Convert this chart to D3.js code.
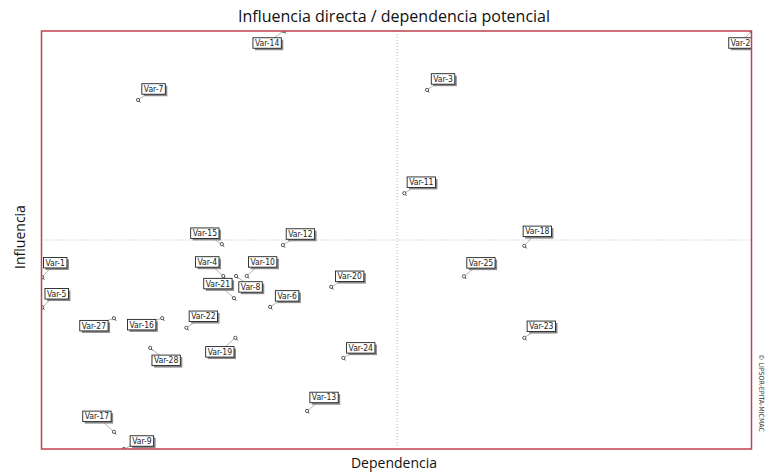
<!DOCTYPE html>
<html>
<head>
<meta charset="utf-8">
<script src="https://cdn.jsdelivr.net/npm/d3@7"></script>
<style>
  html, body { margin: 0; padding: 0; background: #fff; }
  svg { display: block; }
</style>
</head>
<body>
<svg id="chart" width="778" height="472"></svg>
<script>
// ---- data (dependence = x, influence = y, arbitrary 0..100 units) ----
const variables = ["Var-1","Var-2","Var-3","Var-4","Var-5","Var-6","Var-7","Var-8","Var-9","Var-10",
  "Var-11","Var-12","Var-13","Var-14","Var-15","Var-16","Var-17","Var-18","Var-19","Var-20",
  "Var-21","Var-22","Var-23","Var-24","Var-25","Var-27","Var-28"];
const dependence = [0.1, 100, 54.3, 25.6, 0.1, 32.2, 13.6, 27.4, 11.6, 28.9,
  51.1, 34.0, 37.4, 34.1, 25.4, 17.0, 10.2, 68.0, 27.3, 40.8,
  27.1, 20.4, 68.0, 42.5, 59.5, 10.2, 15.3];
const influence = [41.1, 100, 85.9, 41.4, 33.9, 34.0, 83.5, 41.4, 0, 41.4,
  61.2, 48.8, 9.1, 100, 49.0, 31.3, 4.1, 48.6, 26.6, 38.8,
  36.1, 29.0, 26.6, 21.8, 41.3, 31.3, 24.2];
const meanDependence = 50.1;
const meanInfluence = 50.0;

// label placement relative to each point (layout, pixels)
const labelDx = [13, -11, 16, -16, 14.5, 17, 15.5, 14.5, 18, 16,
  17, 17.5, 17, -16.5, -17, -20.5, -17, 13, -15.5, 18.5,
  -16, 17, 17, 17.5, 17, -20, 16];
const labelDy = [-14.5, 12, -11, -14, -13.5, -11, -11, 11, -8, -14,
  -11, -11, -13.5, 12, -11, 6.5, -15.5, -14.5, 14, -10.5,
  -14.5, -11.5, -11.5, -10, -13.5, 7.5, 12.5];

const titleText = "Influencia directa / dependencia potencial";
const xTitle = "Dependencia";
const yTitle = "Influencia";
const credit = "© LIPSOR-EPITA-MICMAC";

// ---- drawing ----
const svg = d3.select("#chart");
const pLeft = 41.5, pRight = 751.5, pTop = 31, pBottom = 449;
const x = d3.scaleLinear().domain([0, 100]).range([pLeft, pRight]);
const y = d3.scaleLinear().domain([0, 100]).range([pBottom, pTop]);

const points = variables.map((name, i) => ({
  name, dx: labelDx[i], dy: labelDy[i],
  px: x(dependence[i]), py: y(influence[i])
}));

svg.append("defs").append("clipPath").attr("id", "plotClip")
  .append("rect").attr("x", pLeft).attr("y", pTop)
  .attr("width", pRight - pLeft).attr("height", pBottom - pTop);

// mean lines
svg.append("line")
  .attr("x1", x(meanDependence)).attr("x2", x(meanDependence))
  .attr("y1", pTop).attr("y2", pBottom)
  .attr("stroke", "#b8b8b8").attr("stroke-width", 1).attr("stroke-dasharray", "1,2");
svg.append("line")
  .attr("x1", pLeft).attr("x2", pRight)
  .attr("y1", y(meanInfluence)).attr("y2", y(meanInfluence))
  .attr("stroke", "#b8b8b8").attr("stroke-width", 1).attr("stroke-dasharray", "1,2");

const plot = svg.append("g").attr("clip-path", "url(#plotClip)");

// leader lines
plot.selectAll("line.leader").data(points).join("line")
  .attr("class", "leader")
  .attr("x1", d => d.px).attr("y1", d => d.py)
  .attr("x2", d => d.px + d.dx).attr("y2", d => d.py + d.dy)
  .attr("stroke", "#a0a0a0").attr("stroke-width", 0.8);

// markers (small pin: circle with a tail)
const mk = plot.selectAll("g.marker").data(points).join("g")
  .attr("class", "marker")
  .attr("transform", d => `translate(${d.px},${d.py})`);
mk.append("line").attr("x1", 0.8).attr("y1", 0.8).attr("x2", 2.2).attr("y2", 2.6)
  .attr("stroke", "#444").attr("stroke-width", 1);
mk.append("circle").attr("r", 1.6).attr("fill", "#fff")
  .attr("stroke", "#444").attr("stroke-width", 0.9);

// labels
const lab = plot.selectAll("g.label").data(points).join("g")
  .attr("class", "label")
  .attr("transform", d => `translate(${d.px + d.dx},${d.py + d.dy})`);
lab.each(function(d) {
  const g = d3.select(this);
  const t = g.append("text")
    .attr("text-anchor", "middle").attr("dy", "0.35em")
    .attr("font-family", "'Liberation Sans Narrow', 'DejaVu Sans Condensed', sans-serif")
    .attr("font-size", 8.5).attr("fill", "#222")
    .text(d.name);
  const w = t.node().getComputedTextLength() + 4;
  const h = 10.5;
  g.insert("rect", "text").attr("x", -w / 2 + 2).attr("y", -h / 2 + 2)
    .attr("width", w).attr("height", h).attr("fill", "#8a8a8a");
  g.insert("rect", "text").attr("x", -w / 2).attr("y", -h / 2)
    .attr("width", w).attr("height", h)
    .attr("fill", "#fff").attr("stroke", "#222").attr("stroke-width", 0.9);
});

// frame
svg.append("rect").attr("x", pLeft).attr("y", pTop)
  .attr("width", pRight - pLeft).attr("height", pBottom - pTop)
  .attr("fill", "none").attr("stroke", "#c0404c").attr("stroke-width", 1.5);

// titles
svg.append("text").attr("x", 394).attr("y", 22).attr("text-anchor", "middle")
  .attr("font-family", "'Open Sans', sans-serif").attr("font-size", 16)
  .attr("fill", "#111").text(titleText);
svg.append("text").attr("x", 394).attr("y", 468).attr("text-anchor", "middle")
  .attr("font-family", "'Open Sans', sans-serif").attr("font-size", 14)
  .attr("fill", "#111").text(xTitle);
svg.append("text").attr("transform", "translate(25,237) rotate(-90)")
  .attr("text-anchor", "middle")
  .attr("font-family", "'Open Sans', sans-serif").attr("font-size", 14)
  .attr("fill", "#111").text(yTitle);
svg.append("text").attr("transform", "translate(759,393) rotate(90)")
  .attr("text-anchor", "middle")
  .attr("font-family", "'Liberation Sans Narrow', 'DejaVu Sans Condensed', sans-serif")
  .attr("font-size", 7).attr("fill", "#333").text(credit);
</script>
</body>
</html>
